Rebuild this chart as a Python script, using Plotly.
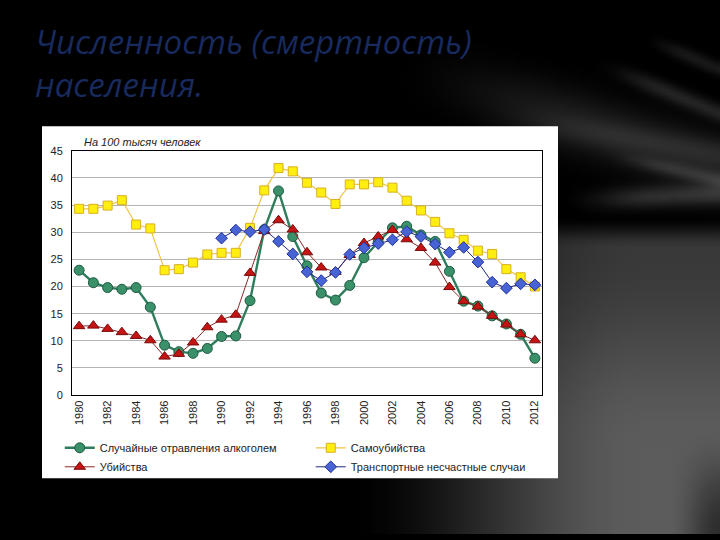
import base64, struct, zlib
import numpy as np
import plotly.graph_objects as go

years = list(range(1980, 2013))
alcohol = [23.0, 20.7, 19.8, 19.5, 19.8, 16.2, 9.2, 8.0, 7.7, 8.6, 10.8, 10.9, 17.4,
           30.5, 37.6, 29.2, 23.8, 18.8, 17.5, 20.2, 25.3, 28.2, 30.8, 31.1, 29.5,
           28.3, 22.8, 17.3, 16.4, 14.6, 13.1, 11.2, 6.8]
suicide = [34.3, 34.3, 34.9, 35.9, 31.4, 30.7, 23.0, 23.2, 24.4, 25.9, 26.2, 26.2, 30.8,
           37.7, 41.8, 41.2, 39.1, 37.3, 35.2, 38.8, 38.8, 39.2, 38.2, 35.8, 34.0,
           31.9, 29.8, 28.6, 26.6, 26.0, 23.2, 21.7, 20.0]
murder = [12.7, 12.8, 12.2, 11.6, 10.9, 10.1, 7.1, 7.6, 9.7, 12.5, 13.9, 14.8, 22.5,
          30.2, 32.2, 30.5, 26.3, 23.5, 22.7, 25.8, 28.0, 29.2, 30.4, 28.7, 27.1,
          24.4, 19.9, 17.3, 16.3, 14.6, 13.0, 11.2, 10.1]
transport = [None] * 10 + [28.9, 30.4, 30.1, 30.5, 28.3, 26.0, 22.7, 21.1, 22.6, 25.9,
                           27.1, 27.9, 28.6, 30.1, 29.2, 27.8, 26.3, 27.2, 24.5, 20.8,
                           19.7, 20.5, 20.3]
tick_years = list(range(1980, 2013, 2))
tick_labels = [str(y) for y in tick_years]
y_ticks = list(range(0, 50, 5))

names = ["Случайные отравления алкоголем", "Самоубийства", "Убийства",
         "Транспортные несчастные случаи"]
title_lines = ["Численность (смертность)", "населения."]
subtitle = "На 100 тысяч человек"

# ---------- background image (dark with grey streaks) ----------
W, H = 180, 135
X, Y = np.meshgrid((np.arange(W) + 0.5) * 4, (np.arange(H) + 0.5) * 4)


def ss(a, b, v):
    t = np.clip((v - a) / (b - a), 0, 1)
    return t * t * (3 - 2 * t)


base = 92 * ss(340, 640, X) * ss(215, 248, Y) * (0.62 + 0.38 * ss(245, 450, Y))
base *= 1 - 0.5 * ss(670, 720, X) * ss(430, 540, Y)


def streak(x0, y0, x1, y1, sig, amp):
    dx, dy = x1 - x0, y1 - y0
    L2 = dx * dx + dy * dy
    t = np.clip(((X - x0) * dx + (Y - y0) * dy) / L2, 0, 1)
    d2 = (X - (x0 + t * dx)) ** 2 + (Y - (y0 + t * dy)) ** 2
    return amp * np.exp(-d2 / (2 * sig * sig)) * ss(0, 0.6, t)


img = base.copy()
img += streak(380, 55, 720, 165, 22, 30)
img += streak(590, 55, 720, 110, 6, 36)
img += streak(640, 30, 720, 65, 5, 26)
img += streak(555, 200, 720, 192, 8, 44)
img += streak(600, 150, 720, 178, 5, 32)
img += streak(470, 110, 720, 150, 10, 18)
img = np.clip(img, 0, 255).astype(np.uint8)
rgb = np.repeat(img[:, :, None], 3, axis=2)
raw = b"".join(b"\x00" + rgb[r].tobytes() for r in range(H))


def chunk(tag, data):
    c = struct.pack(">I", len(data)) + tag + data
    return c + struct.pack(">I", zlib.crc32(tag + data) & 0xFFFFFFFF)


png = (b"\x89PNG\r\n\x1a\n" + chunk(b"IHDR", struct.pack(">IIBBBBB", W, H, 8, 2, 0, 0, 0))
       + chunk(b"IDAT", zlib.compress(raw, 9)) + chunk(b"IEND", b""))
bg_uri = "data:image/png;base64," + base64.b64encode(png).decode()

# ---------- figure ----------
fig = go.Figure()
fig.add_trace(go.Scatter(
    x=years, y=alcohol, name=names[0], mode="lines+markers",
    line=dict(color="#2f7d5c", width=2.4),
    marker=dict(symbol="circle", size=10, color="#3a9068",
                line=dict(color="#1e5a40", width=1))))
fig.add_trace(go.Scatter(
    x=years, y=suicide, name=names[1], mode="lines+markers",
    line=dict(color="#efc44a", width=1.2),
    marker=dict(symbol="square", size=9, color="#ffee10",
                line=dict(color="#d8b020", width=1))))
fig.add_trace(go.Scatter(
    x=years, y=murder, name=names[2], mode="lines+markers",
    line=dict(color="#8a2a2a", width=1),
    marker=dict(symbol="triangle-up", size=10, color="#c41414",
                line=dict(color="#7a0a0a", width=1))))
fig.add_trace(go.Scatter(
    x=years, y=transport, name=names[3], mode="lines+markers",
    line=dict(color="#1f2a80", width=1),
    marker=dict(symbol="diamond", size=9, color="#4864d4",
                line=dict(color="#24309a", width=1))))

axis_font = dict(family="Liberation Sans, Arial", size=11, color="#222222")
title_font = dict(family="Open Sans", size=33, color="#182a5e")
fig.update_layout(
    width=720, height=540,
    margin=dict(l=0, r=0, t=0, b=0),
    paper_bgcolor="#000000",
    plot_bgcolor="#ffffff",
    font=axis_font,
    showlegend=True,
    legend=dict(orientation="h", x=0.083, y=1 - 437 / 540, xanchor="left", yanchor="top",
                entrywidth=206, bgcolor="rgba(0,0,0,0)",
                font=dict(family="Liberation Sans, Arial", size=11, color="#222222"),
                tracegroupgap=0),
    xaxis=dict(domain=[72 / 720, 542 / 720], range=[1979.5, 2012.5],
               tickvals=tick_years, ticktext=tick_labels, tickangle=-90,
               showgrid=False, zeroline=False, showline=True, mirror=True,
               linecolor="#000000", linewidth=1, ticks="", tickfont=axis_font),
    yaxis=dict(domain=[1 - 398 / 540, 1 - 148 / 540], range=[0, 45],
               tickvals=y_ticks, showgrid=True, gridcolor="#b4b4b4", gridwidth=1,
               zeroline=False, showline=True, mirror=True, linecolor="#000000",
               linewidth=1, ticks="", tickfont=axis_font, ticklabelstandoff=6),
    images=[dict(source=bg_uri, xref="paper", yref="paper", x=0, y=1,
                 sizex=1, sizey=1, xanchor="left", yanchor="top",
                 sizing="stretch", layer="below")],
    shapes=[dict(type="rect", xref="paper", yref="paper",
                 x0=42 / 720, x1=558 / 720, y0=1 - 483 / 540, y1=1 - 123 / 540,
                 fillcolor="#ffffff", line=dict(width=0), layer="below")],
    annotations=[
        dict(text="<i>" + "<br>".join(title_lines) + "</i>", xref="paper", yref="paper",
             x=33 / 720, y=1 - 58 / 540, xanchor="left", yanchor="middle",
             align="left", showarrow=False, font=title_font),
        dict(text="<i>" + subtitle + "</i>", xref="paper", yref="paper",
             x=82 / 720, y=1 - 139 / 540, xanchor="left", yanchor="middle",
             showarrow=False,
             font=dict(family="Liberation Sans, Arial", size=11, color="#222222")),
    ],
)

fig.write_html(
    "out.html",
    config={"displayModeBar": False},
    post_script="document.body.style.margin='0';document.body.style.overflow='hidden';",
)
